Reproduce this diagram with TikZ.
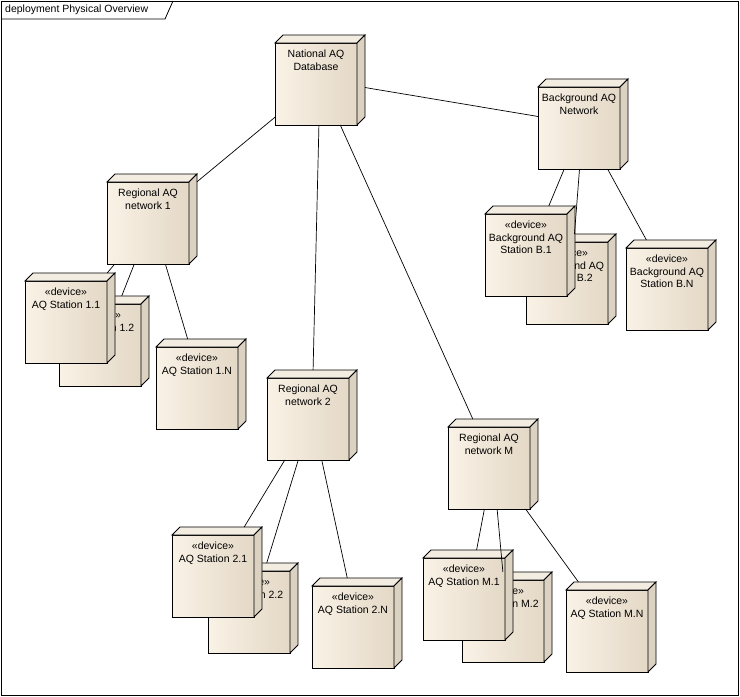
\documentclass[tikz,border=0pt]{standalone}
\usepackage{fontspec}
\setmainfont{Liberation Sans}
\definecolor{faceL}{HTML}{F9F2E6}
\definecolor{faceM}{HTML}{F3EBDE}
\definecolor{faceR}{HTML}{E4D8C6}
\definecolor{topC}{HTML}{F3ECE1}
\definecolor{sideC}{HTML}{DCD2C2}
\tikzset{
  x=1pt, y=-1pt,
  outl/.style={draw=black, line width=0.8pt, line join=miter},
  frontface/.style={outl, left color=faceL, middle color=faceM, right color=faceR, shading angle=90},
  topface/.style={outl, fill=topC},
  sideface/.style={outl, fill=sideC},
  boxtext/.style={anchor=north, align=center, inner sep=0pt, font=\fontsize{10.5}{12.8}\selectfont},
  bboxnode/.style={inner sep=0pt, outer sep=0pt, minimum width=90pt, minimum height=90pt},
  conn/.style={draw=black, line width=0.7pt},
}
\newcommand\devbox[4]{%
  \begin{scope}[shift={(#2,#3)}]
    \fill[frontface] (0,8) rectangle (82,90);
    \draw[outl] (0,8) rectangle (82,90);
    \draw[topface] (0,8) -- (8,0) -- (90,0) -- (82,8) -- cycle;
    \draw[sideface] (82,8) -- (90,0) -- (90,82) -- (82,90) -- cycle;
    \node[boxtext] at (41,14.5) {#4};
    \node[bboxnode] (#1) at (45,45) {};
  \end{scope}}
\begin{document}
\begin{tikzpicture}
\useasboundingbox (0,0) rectangle (740,697);
% frame
\draw[line width=0.8pt] (1,1) rectangle (738,695);
\draw[line width=0.8pt] (1,19) -- (165,19) -- (173,1);
\node[anchor=west, inner sep=0pt, font=\fontsize{10.5}{12}\selectfont] (title) at (5,10) {deployment Physical Overview};
% nodes
\devbox{nat}{275}{35}{National AQ\\Database}
\devbox{bgn}{538}{79}{Background AQ\\Network}
\devbox{r1}{107}{174}{Regional AQ\\network 1}
\devbox{s12}{59}{296}{«device»\\AQ Station 1.2}
\devbox{s11}{25}{273}{«device»\\AQ Station 1.1}
\devbox{s1n}{156}{339}{«device»\\AQ Station 1.N}
\devbox{b2}{526}{234}{«device»\\Background AQ\\Station B.2}
\devbox{b1}{485}{206}{«device»\\Background AQ\\Station B.1}
\devbox{bn}{626}{240}{«device»\\Background AQ\\Station B.N}
\devbox{r2}{267}{370}{Regional AQ\\network 2}
\devbox{rm}{448}{419}{Regional AQ\\network M}
\devbox{m2}{462}{572}{«device»\\AQ Station M.2}
\devbox{m1}{423}{550}{«device»\\AQ Station M.1}
\devbox{mn}{566}{582}{«device»\\AQ Station M.N}
\devbox{s22}{208}{563}{«device»\\AQ Station 2.2}
\devbox{s21}{172}{527}{«device»\\AQ Station 2.1}
\devbox{s2n}{312}{578}{«device»\\AQ Station 2.N}
% connectors
\draw[conn] (nat) -- (bgn);
\draw[conn] (nat) -- (r1);
\draw[conn] (nat) -- (r2);
\draw[conn] (nat) -- (rm);
\draw[conn] (r1) -- (s11);
\draw[conn] (r1) -- (s12);
\draw[conn] (r1) -- (s1n);
\draw[conn] (bgn) -- (b1);
\draw[conn] (bgn) -- (b2);
\draw[conn] (bgn) -- (bn);
\draw[conn] (r2) -- (s21);
\draw[conn] (r2) -- (s22);
\draw[conn] (r2) -- (s2n);
\draw[conn] (rm) -- (m1);
\draw[conn] (rm) -- (m2);
\draw[conn] (rm) -- (mn);
\end{tikzpicture}
\end{document}
